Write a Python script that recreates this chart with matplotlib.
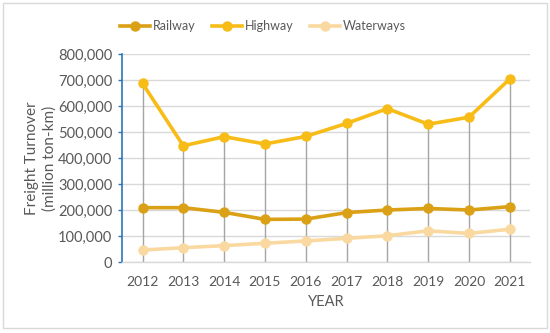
import matplotlib
matplotlib.use("Agg")
import matplotlib.pyplot as plt
from matplotlib.patches import Rectangle
from matplotlib.ticker import FuncFormatter, MultipleLocator
import numpy as np

years = [2012, 2013, 2014, 2015, 2016, 2017, 2018, 2019, 2020, 2021]
railway = [209000, 209000, 191000, 164000, 165000, 190000, 200000, 206000, 200000, 213000]
highway = [687000, 447000, 482000, 454000, 483000, 533000, 590000, 530000, 557000, 704000]
waterways = [46000, 55000, 63000, 72000, 81000, 91000, 101000, 120000, 110000, 126000]

plt.rcParams['font.family'] = ['Lato', 'DejaVu Sans']
txt = '#595959'

fig = plt.figure(figsize=(5.5, 3.33), dpi=100)
ax = fig.add_axes([0.222, 0.2132, 0.742, 0.6246])

x = np.arange(len(years))
tops = np.maximum(np.maximum(railway, highway), waterways)
ax.vlines(x, 0, tops, color='#A5A5A5', lw=1.0, zorder=2)

ax.plot(x, railway, color='#DBA116', lw=2.6, marker='o', ms=6.5, label='Railway', zorder=4)
ax.plot(x, highway, color='#F7BC17', lw=2.6, marker='o', ms=6.5, label='Highway', zorder=4)
ax.plot(x, waterways, color='#FAD9A1', lw=2.6, marker='o', ms=6.5, label='Waterways', zorder=3)

ax.set_xlim(-0.5, len(years) - 0.5)
ax.set_ylim(0, 800000)
ax.yaxis.set_major_locator(MultipleLocator(100000))
ax.yaxis.set_major_formatter(FuncFormatter(lambda v, p: f"{int(v):,}"))
ax.set_xticks(x)
ax.set_xticklabels([str(y) for y in years])
ax.grid(axis='y', color='#D9D9D9', lw=1.0, zorder=0)
ax.set_axisbelow(True)

for s in ['top', 'right']:
    ax.spines[s].set_visible(False)
ax.spines['left'].set_color('#2E75B6')
ax.spines['left'].set_linewidth(1.2)
ax.spines['bottom'].set_color('#D9D9D9')
ax.spines['bottom'].set_linewidth(1.0)
ax.tick_params(axis='y', colors='#2E75B6', labelcolor=txt, labelsize=10.5, length=3, width=1, pad=4)
ax.tick_params(axis='x', length=0, labelcolor=txt, labelsize=10, pad=10)

ax.set_xlabel('YEAR', color=txt, fontsize=10.5, labelpad=5)
ax.set_ylabel('Freight Turnover\n(million ton-km)', color=txt, fontsize=11, labelpad=1, linespacing=1.25)

leg = fig.legend(loc='center', bbox_to_anchor=(0.478, 0.922), ncol=3, frameon=False,
                 fontsize=9, handlelength=2.4, columnspacing=1.3, handletextpad=0.25)
for t in leg.get_texts():
    t.set_color(txt)

fig.patches.append(Rectangle((0.006, 0.015), 0.988, 0.975, transform=fig.transFigure,
                             fill=False, edgecolor='#D9D9D9', lw=1.0))

fig.savefig('out.png', dpi=100, facecolor='white')
